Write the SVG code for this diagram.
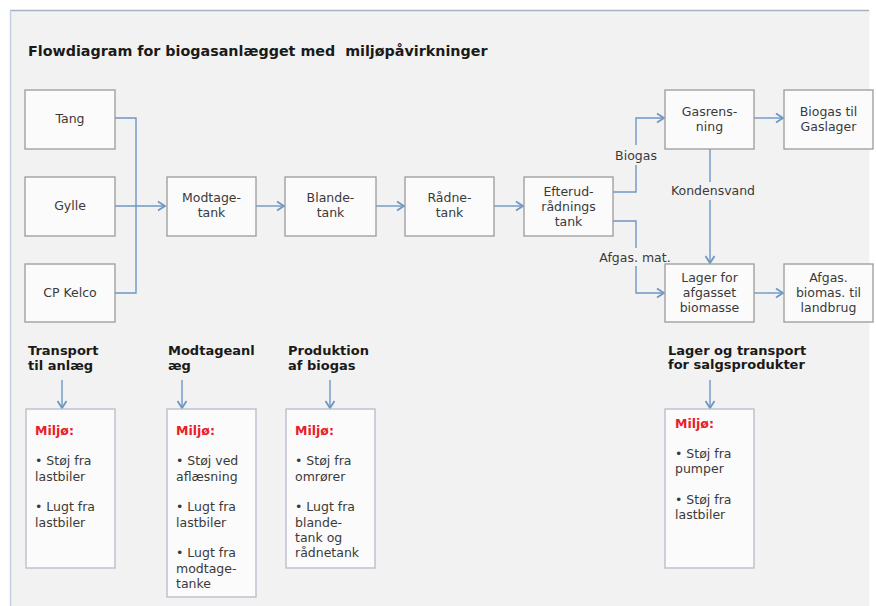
<svg xmlns="http://www.w3.org/2000/svg" width="876" height="606" viewBox="0 0 876 606">
<defs>
<style>
.t{font-family:"DejaVu Sans","Verdana",sans-serif;font-size:12.5px;fill:#3a3a3a;text-anchor:middle}
.tl{font-family:"DejaVu Sans","Verdana",sans-serif;font-size:12.5px;fill:#3a3a3a}
.b{font-family:"DejaVu Sans","Verdana",sans-serif;font-size:13px;font-weight:bold;fill:#1a1a1a}
.r{font-family:"DejaVu Sans","Verdana",sans-serif;font-size:12.5px;font-weight:bold;fill:#e8202a}
.box{fill:#fbfbfb;stroke:#9a9a9a;stroke-width:1.3}
.ebox{fill:#fbfbfb;stroke:#b4bcc8;stroke-width:1.3}
.c{fill:none;stroke:#6f97c6;stroke-width:1.4}
.bg{fill:#f2f2f2}
</style>
<marker id="ah" markerUnits="userSpaceOnUse" markerWidth="12" markerHeight="12" refX="8" refY="6" orient="auto">
<path d="M1,1.5 L8,6 L1,10.5" fill="none" stroke="#6f97c6" stroke-width="1.8"/>
</marker>
</defs>
<rect x="0" y="0" width="876" height="606" fill="#ffffff"/>
<rect x="10" y="10" width="859" height="600" fill="#f2f2f2"/>
<line x1="10" y1="10.5" x2="869" y2="10.5" stroke="#a9b2c0" stroke-width="1.5"/>
<line x1="10.5" y1="10" x2="10.5" y2="606" stroke="#c3d0e2" stroke-width="1.5"/>
<line x1="869.5" y1="10" x2="869.5" y2="606" stroke="#f8f8f8" stroke-width="1"/>

<text class="b" x="28" y="56" style="font-size:14.3px" xml:space="preserve">Flowdiagram for biogasanlægget med  miljøpåvirkninger</text>

<g id="connectors">
<polyline class="c" points="115,118 136,118 136,293 115,293"/>
<line class="c" x1="115" y1="206" x2="165" y2="206" marker-end="url(#ah)"/>
<line class="c" x1="256" y1="206" x2="284" y2="206" marker-end="url(#ah)"/>
<line class="c" x1="376" y1="206" x2="404" y2="206" marker-end="url(#ah)"/>
<line class="c" x1="494" y1="206" x2="523" y2="206" marker-end="url(#ah)"/>
<polyline class="c" points="613,192 636,192 636,118 664,118" marker-end="url(#ah)"/>
<polyline class="c" points="613,221 636,221 636,293 664,293" marker-end="url(#ah)"/>
<line class="c" x1="710" y1="149" x2="710" y2="263" marker-end="url(#ah)"/>
<line class="c" x1="754" y1="118" x2="783" y2="118" marker-end="url(#ah)"/>
<line class="c" x1="754" y1="293" x2="783" y2="293" marker-end="url(#ah)"/>
<rect class="bg" x="610" y="145" width="52" height="20"/>
<text class="t" x="636" y="160">Biogas</text>
<rect class="bg" x="666" y="182" width="92" height="18"/>
<text class="t" x="713" y="195">Kondensvand</text>
<rect class="bg" x="596" y="248" width="80" height="18"/>
<text class="t" x="635" y="262">Afgas. mat.</text>
<line class="c" x1="62" y1="380" x2="62" y2="408" marker-end="url(#ah)"/>
<line class="c" x1="182" y1="380" x2="182" y2="408" marker-end="url(#ah)"/>
<line class="c" x1="330" y1="380" x2="330" y2="408" marker-end="url(#ah)"/>
<line class="c" x1="710" y1="380" x2="710" y2="408" marker-end="url(#ah)"/>
</g>

<g id="tang"><rect class="box" x="25" y="90" width="90" height="59"/><text class="t" x="70" y="123">Tang</text></g>
<g id="gylle"><rect class="box" x="25" y="177" width="90" height="59"/><text class="t" x="70" y="210">Gylle</text></g>
<g id="cpkelco"><rect class="box" x="25" y="264" width="90" height="58"/><text class="t" x="70" y="297">CP Kelco</text></g>
<g id="modtagetank"><rect class="box" x="167" y="177" width="89" height="59"/><text class="t" x="211.5" y="202">Modtage-</text><text class="t" x="211.5" y="217">tank</text></g>
<g id="blandetank"><rect class="box" x="285" y="177" width="91" height="59"/><text class="t" x="330.5" y="202">Blande-</text><text class="t" x="330.5" y="217">tank</text></g>
<g id="raadnetank"><rect class="box" x="405" y="177" width="89" height="59"/><text class="t" x="449.5" y="202">Rådne-</text><text class="t" x="449.5" y="217">tank</text></g>
<g id="efterud"><rect class="box" x="524" y="177" width="89" height="59"/><text class="t" x="568.5" y="196">Efterud-</text><text class="t" x="568.5" y="211">rådnings</text><text class="t" x="568.5" y="226">tank</text></g>
<g id="gasrensning"><rect class="box" x="665" y="90" width="89" height="59"/><text class="t" x="709.5" y="116">Gasrens-</text><text class="t" x="709.5" y="131">ning</text></g>
<g id="biogastil"><rect class="box" x="784" y="90" width="89" height="59"/><text class="t" x="828.5" y="116">Biogas til</text><text class="t" x="828.5" y="131">Gaslager</text></g>
<g id="lager"><rect class="box" x="665" y="264" width="89" height="58"/><text class="t" x="709.5" y="282">Lager for</text><text class="t" x="709.5" y="297">afgasset</text><text class="t" x="709.5" y="312">biomasse</text></g>
<g id="afgasbiomas"><rect class="box" x="784" y="264" width="89" height="58"/><text class="t" x="828.5" y="282">Afgas.</text><text class="t" x="828.5" y="297">biomas. til</text><text class="t" x="828.5" y="312">landbrug</text></g>

<g id="transport">
<text class="b" x="28" y="355">Transport</text><text class="b" x="28" y="370">til anlæg</text>
<rect class="ebox" x="26" y="409" width="89" height="159"/>
<text class="r" x="35" y="435">Miljø:</text>
<text class="tl" x="35" y="465">• Støj fra</text><text class="tl" x="35" y="481">lastbiler</text>
<text class="tl" x="35" y="511">• Lugt fra</text><text class="tl" x="35" y="527">lastbiler</text>
</g>
<g id="modtageanlaeg">
<text class="b" x="168" y="355">Modtageanl</text><text class="b" x="168" y="370">æg</text>
<rect class="ebox" x="167" y="409" width="89" height="188"/>
<text class="r" x="176" y="435">Miljø:</text>
<text class="tl" x="176" y="465">• Støj ved</text><text class="tl" x="176" y="481">aflæsning</text>
<text class="tl" x="176" y="511">• Lugt fra</text><text class="tl" x="176" y="527">lastbiler</text>
<text class="tl" x="176" y="557">• Lugt fra</text><text class="tl" x="176" y="573">modtage-</text><text class="tl" x="176" y="588">tanke</text>
</g>
<g id="produktion">
<text class="b" x="288" y="355">Produktion</text><text class="b" x="288" y="370">af biogas</text>
<rect class="ebox" x="286" y="409" width="89" height="159"/>
<text class="r" x="295" y="435">Miljø:</text>
<text class="tl" x="295" y="465">• Støj fra</text><text class="tl" x="295" y="481">omrører</text>
<text class="tl" x="295" y="511">• Lugt fra</text><text class="tl" x="295" y="527">blande-</text><text class="tl" x="295" y="542">tank og</text><text class="tl" x="295" y="557">rådnetank</text>
</g>
<g id="lagerogtransport">
<text class="b" x="668" y="355">Lager og transport</text><text class="b" x="668" y="369">for salgsprodukter</text>
<rect class="ebox" x="665" y="409" width="89" height="159"/>
<text class="r" x="675" y="428">Miljø:</text>
<text class="tl" x="675" y="458">• Støj fra</text><text class="tl" x="675" y="473">pumper</text>
<text class="tl" x="675" y="504">• Støj fra</text><text class="tl" x="675" y="519">lastbiler</text>
</g>
</svg>
